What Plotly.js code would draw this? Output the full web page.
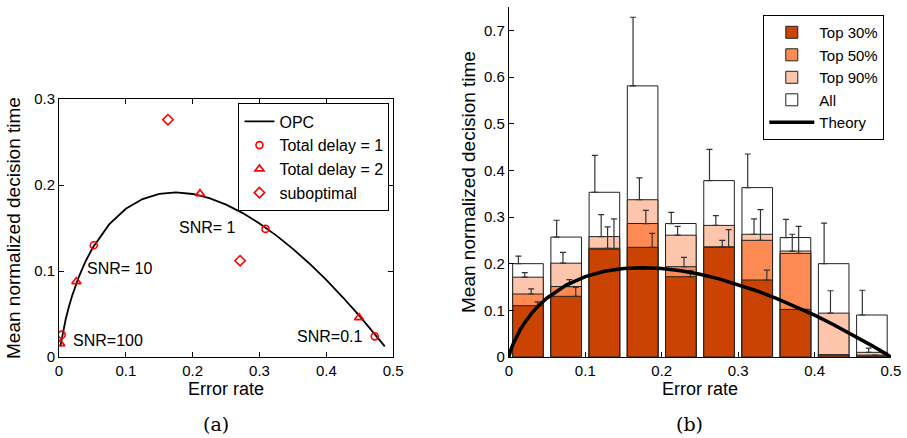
<!DOCTYPE html>
<html><head><meta charset="utf-8">
<script src="https://cdn.plot.ly/plotly-3.0.1.min.js"></script>
<style>html,body{margin:0;padding:0;background:#fff}#chart{width:907px;height:438px}</style>
</head><body><div id="chart"></div>
<script>
// ---- Panel (a) data ----
const opcER = [0.002, 0.005, 0.01, 0.015, 0.02, 0.03, 0.04, 0.05, 0.075, 0.1, 0.125, 0.15, 0.175, 0.2, 0.225, 0.25, 0.275, 0.3, 0.325, 0.35, 0.375, 0.4, 0.425, 0.45, 0.475, 0.4875];
const opcDT = [0.0123, 0.0258, 0.0439, 0.0590, 0.0720, 0.0939, 0.1117, 0.1265, 0.1542, 0.1724, 0.1837, 0.1897, 0.1915, 0.1896, 0.1848, 0.1773, 0.1674, 0.1554, 0.1415, 0.1258, 0.1085, 0.0896, 0.0692, 0.0475, 0.0244, 0.0123];
const delay1ER = [0.004, 0.052, 0.309, 0.4725];
const delay1DT = [0.026, 0.130, 0.149, 0.024];
const delay2ER = [0.002, 0.026, 0.211, 0.449];
const delay2DT = [0.0155, 0.0877, 0.190, 0.0458];
const subER = [0.163, 0.271];
const subDT = [0.276, 0.112];
const snrLabels = ["SNR=100", "SNR= 10", "SNR= 1", "SNR=0.1"];
const snrX = [0.074, 0.090, 0.222, 0.405];
const snrY = [0.0194, 0.103, 0.151, 0.0237];

// ---- Panel (b) data ----
const binCenters = [0.025, 0.075, 0.125, 0.175, 0.225, 0.275, 0.325, 0.375, 0.425, 0.475];
const allDT    = [0.200, 0.257, 0.353, 0.581, 0.286, 0.378, 0.363, 0.256, 0.200, 0.090];
const allErr   = [0.016, 0.036, 0.079, 0.147, 0.024, 0.067, 0.072, 0.039, 0.087, 0.053];
const top90DT  = [0.171, 0.201, 0.258, 0.337, 0.261, 0.282, 0.263, 0.227, 0.094, 0.010];
const top90Err = [0.010, 0.023, 0.047, 0.047, 0.019, 0.021, 0.033, 0.036, 0.048, 0.009];
const top50DT  = [0.135, 0.151, 0.233, 0.286, 0.1935, 0.236, 0.250, 0.222, 0.005, 0.004];
const top50Err = [0.011, 0.015, 0.046, 0.028, 0.020, 0.014, 0.066, 0.058, 0.000, 0.000];
const top30DT  = [0.110, 0.130, 0.231, 0.235, 0.172, 0.235, 0.165, 0.102, 0.004, 0.002];
const top30Err = [0.008, 0.019, 0.065, 0.030, 0.013, 0.038, 0.021, 0.000, 0.000, 0.000];
const theoryER = [0, 0.001, 0.0025, 0.005, 0.01, 0.015, 0.02, 0.03, 0.04, 0.05, 0.075, 0.1, 0.125, 0.15, 0.175, 0.2, 0.225, 0.25, 0.275, 0.3, 0.325, 0.35, 0.375, 0.4, 0.425, 0.45, 0.475, 0.49, 0.5];
const theoryDT = [0, 0.0069, 0.0148, 0.0258, 0.0439, 0.0590, 0.0720, 0.0939, 0.1117, 0.1265, 0.1542, 0.1724, 0.1837, 0.1897, 0.1915, 0.1896, 0.1848, 0.1773, 0.1674, 0.1554, 0.1415, 0.1258, 0.1085, 0.0896, 0.0692, 0.0475, 0.0244, 0.0099, 0];

const seriesNames = ["All", "Top 90%", "Top 50%", "Top 30%"];
const seriesColors = ["#ffffff", "#fdc5ab", "#fe8b54", "#cb4300"];
const seriesVals = [allDT, top90DT, top50DT, top30DT];
const seriesErrs = [allErr, top90Err, top50Err, top30Err];
const errOffsets = [-0.0125, -0.0042, 0.0042, 0.0125];
const legendRanks = [4, 3, 2, 1];

const FONT = "Liberation Sans, Arial, Helvetica, sans-serif";
const red = "#ff0000";

const traces = [];
traces.push({x: opcER, y: opcDT, mode: "lines", name: "OPC", line: {color: "#000", width: 1.8},
  xaxis: "x", yaxis: "y", legend: "legend"});
traces.push({x: delay1ER, y: delay1DT, mode: "markers", name: "Total delay = 1",
  marker: {symbol: "circle-open", size: 7, color: red, line: {width: 1.6, color: red}}, xaxis: "x", yaxis: "y", legend: "legend"});
traces.push({x: delay2ER, y: delay2DT, mode: "markers", name: "Total delay = 2",
  marker: {symbol: "triangle-up-open", size: 8, color: red, line: {width: 1.6, color: red}}, xaxis: "x", yaxis: "y", legend: "legend"});
traces.push({x: subER, y: subDT, mode: "markers", name: "suboptimal",
  marker: {symbol: "diamond-open", size: 8, color: red, line: {width: 1.6, color: red}}, xaxis: "x", yaxis: "y", legend: "legend"});

for (let s = 0; s < 4; s++) {
  traces.push({type: "bar", x: binCenters, y: seriesVals[s], width: 0.04, name: seriesNames[s],
    marker: {color: seriesColors[s], opacity: 1, line: {color: "#222", width: 1}},
    xaxis: "x2", yaxis: "y2", legend: "legend2", legendrank: legendRanks[s]});
}
for (let s = 0; s < 4; s++) {
  traces.push({type: "scatter", mode: "markers", x: binCenters.map(c => c + errOffsets[s]), y: seriesVals[s],
    marker: {opacity: 0, size: 1}, showlegend: false, hoverinfo: "skip",
    error_y: {type: "data", symmetric: false, array: seriesErrs[s], arrayminus: seriesVals[s].map(() => 0),
      color: "#333", thickness: 1.2, width: 3},
    xaxis: "x2", yaxis: "y2"});
}
traces.push({x: theoryER, y: theoryDT, mode: "lines", name: "Theory", line: {color: "#000", width: 3.5},
  xaxis: "x2", yaxis: "y2", legend: "legend2", legendrank: 5});

const axisStyle = {showline: true, linecolor: "#000", linewidth: 1, ticks: "inside", ticklen: 5, tickcolor: "#000",
  showgrid: false, zeroline: false, tickfont: {size: 15, color: "#000", family: FONT}};

const annotations = snrLabels.map((t, i) => ({text: t, x: snrX[i], y: snrY[i], xref: "x", yref: "y",
  showarrow: false, font: {size: 16, color: "#000", family: FONT}}));
annotations.push({text: "(a)", x: 0.1884, y: -0.19, xref: "paper", yref: "paper", yanchor: "middle", xanchor: "center", showarrow: false,
  font: {size: 19, color: "#000", family: "DejaVu Serif, Liberation Serif, serif"}});
annotations.push({text: "(b)", x: 0.7583, y: -0.19, xref: "paper", yref: "paper", yanchor: "middle", xanchor: "center", showarrow: false,
  font: {size: 19, color: "#000", family: "DejaVu Serif, Liberation Serif, serif"}});

const layout = {
  width: 907, height: 438,
  margin: {l: 59, r: 16, t: 7, b: 81},
  paper_bgcolor: "#fff", plot_bgcolor: "#fff",
  font: {family: FONT, color: "#000"},
  barmode: "overlay",
  xaxis: Object.assign({}, axisStyle, {domain: [0, 0.4016], range: [0, 0.5], tickvals: [0, 0.1, 0.2, 0.3, 0.4, 0.5],
    mirror: "ticks", anchor: "y", title: {text: "Error rate", font: {size: 18}, standoff: 2}}),
  yaxis: Object.assign({}, axisStyle, {domain: [0, 0.7369], range: [0, 0.3], tickvals: [0, 0.1, 0.2, 0.3],
    mirror: "ticks", anchor: "x", title: {text: "Mean normalized decision time", font: {size: 19}, standoff: 8}}),
  xaxis2: Object.assign({}, axisStyle, {domain: [0.5407, 1], range: [0, 0.5], tickvals: [0, 0.1, 0.2, 0.3, 0.4, 0.5],
    anchor: "y2", title: {text: "Error rate", font: {size: 18}, standoff: 2}}),
  yaxis2: Object.assign({}, axisStyle, {domain: [0, 1], range: [0, 0.75], tickvals: [0, 0.1, 0.2, 0.3, 0.4, 0.5, 0.6, 0.7],
    anchor: "x2", title: {text: "Mean normalized decision time", font: {size: 19}, standoff: 3}}),
  legend: {x: 0.2157, y: 0.7246, xanchor: "left", yanchor: "top", bgcolor: "#fff", bordercolor: "#000", borderwidth: 1,
    font: {size: 16, color: "#000", family: FONT}, tracegroupgap: 0},
  legend2: {x: 0.8465, y: 0.977, xanchor: "left", yanchor: "top", bgcolor: "#fff", bordercolor: "#000", borderwidth: 1,
    font: {size: 15, color: "#000", family: FONT}, tracegroupgap: 0, traceorder: "normal", itemwidth: 45},
  annotations: annotations
};

Plotly.newPlot("chart", traces, layout, {displayModeBar: false, staticPlot: true});
</script></body></html>
